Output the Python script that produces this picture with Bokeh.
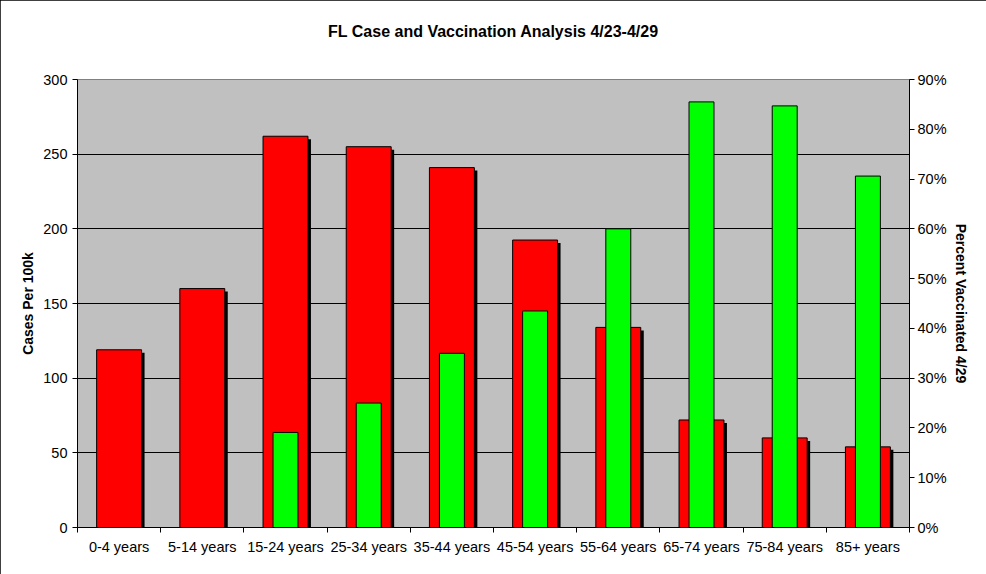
from bokeh.plotting import figure
from bokeh.models import (ColumnDataSource, Range1d, LinearAxis,
                          FixedTicker, PrintfTickFormatter, CustomJSTickFormatter)
from bokeh.embed import file_html
from bokeh.resources import INLINE

title_text = "FL Case and Vaccination Analysis 4/23-4/29"
categories = ["0-4 years", "5-14 years", "15-24 years", "25-34 years", "35-44 years",
              "45-54 years", "55-64 years", "65-74 years", "75-84 years", "85+ years"]
cases_per_100k = [119, 160, 262, 255, 241, 192.5, 134, 72, 60, 54]
pct_vaccinated = [0, 0, 19.1, 25.0, 35.0, 43.5, 60.0, 85.5, 84.7, 70.6]
left_ticks = [0, 50, 100, 150, 200, 250, 300]
right_ticks = [0, 10, 20, 30, 40, 50, 60, 70, 80, 90]

FONT = "Liberation Sans"
N = len(categories)
SHADOW_DX = 0.036   # category units (~3px)
SHADOW_DY = 2       # cases units (~3px)

centers = [i + 0.5 for i in range(N)]
src = ColumnDataSource(dict(
    x=centers,
    xs=[c + SHADOW_DX for c in centers],
    cases=cases_per_100k,
    shadow_top=[c - SHADOW_DY for c in cases_per_100k],
    pct=pct_vaccinated,
))

p = figure(width=986, height=574, x_range=Range1d(0, N), y_range=Range1d(0, 300),
           x_axis_location=None, y_axis_location="left",
           output_backend="svg", toolbar_location=None,
           min_border_left=77, min_border_right=77, min_border_top=79, min_border_bottom=47)
p.extra_y_ranges = {"pct": Range1d(0, 90)}

p.background_fill_color = "#C0C0C0"
p.border_fill_color = "white"
p.outline_line_color = "#808080"
p.styles = {"outline": "1px solid black", "outline-offset": "-1px"}

p.xgrid.visible = False
p.ygrid.grid_line_color = "black"
p.ygrid.grid_line_width = 1

def style_axis(ax, label_standoff, axis_label_standoff=8):
    ax.axis_label_text_font = FONT
    ax.axis_label_text_font_size = "14px"
    ax.axis_label_text_font_style = "bold"
    ax.axis_label_text_color = "black"
    ax.axis_label_standoff = axis_label_standoff
    ax.major_label_text_font = FONT
    ax.major_label_text_font_size = "14.5px"
    ax.major_label_text_color = "black"
    ax.major_label_standoff = label_standoff
    ax.major_tick_in = 0
    ax.major_tick_out = 5
    ax.major_tick_line_color = "black"
    ax.minor_tick_line_color = None
    ax.axis_line_color = "black"

# chart title, centred over the plot area (drawn as the label of a bare top axis)
top = LinearAxis(ticker=FixedTicker(ticks=[]), axis_label=title_text)
top.axis_line_color = None
top.major_tick_line_color = None
top.minor_tick_line_color = None
top.major_tick_in = 0
top.major_tick_out = 0
top.major_label_standoff = 0
top.axis_label_standoff = 40
top.axis_label_text_font = FONT
top.axis_label_text_font_size = "16px"
top.axis_label_text_font_style = "bold"
top.axis_label_text_color = "black"
p.add_layout(top, "above")

# left axis
ya = p.yaxis[0]
ya.ticker = FixedTicker(ticks=left_ticks)
ya.axis_label = "Cases Per 100k"
style_axis(ya, 5, 4)

# right axis
ra = LinearAxis(y_range_name="pct", ticker=FixedTicker(ticks=right_ticks),
                formatter=PrintfTickFormatter(format="%d%%"),
                axis_label="Percent Vaccinated 4/29")
style_axis(ra, 3, 3)
p.add_layout(ra, "right")

# bottom: tick marks between categories
ta = LinearAxis(ticker=FixedTicker(ticks=list(range(N + 1))),
                formatter=CustomJSTickFormatter(code="return ''"))
style_axis(ta, 0)
p.add_layout(ta, "below")

# bottom: category labels at centres
ca = LinearAxis(ticker=FixedTicker(ticks=centers),
                formatter=CustomJSTickFormatter(args=dict(cats=categories),
                                                code="return cats[Math.floor(tick)] || ''"))
style_axis(ca, 1)
ca.axis_line_color = None
ca.major_tick_line_color = None
p.add_layout(ca, "below")

# red bars with shadow
p.vbar(x="xs", top="shadow_top", bottom=0, width=0.54,
       source=src, fill_color="black", line_color=None)
p.vbar(x="x", top="cases", bottom=0, width=0.54, source=src,
       fill_color="#FF0000", line_color="black", line_width=1)
# green bars
p.vbar(x="x", top="pct", bottom=0, width=0.30, source=src, y_range_name="pct",
       fill_color="#00FF00", line_color="black", line_width=1)

open("out.html", "w").write(file_html(p, INLINE))
